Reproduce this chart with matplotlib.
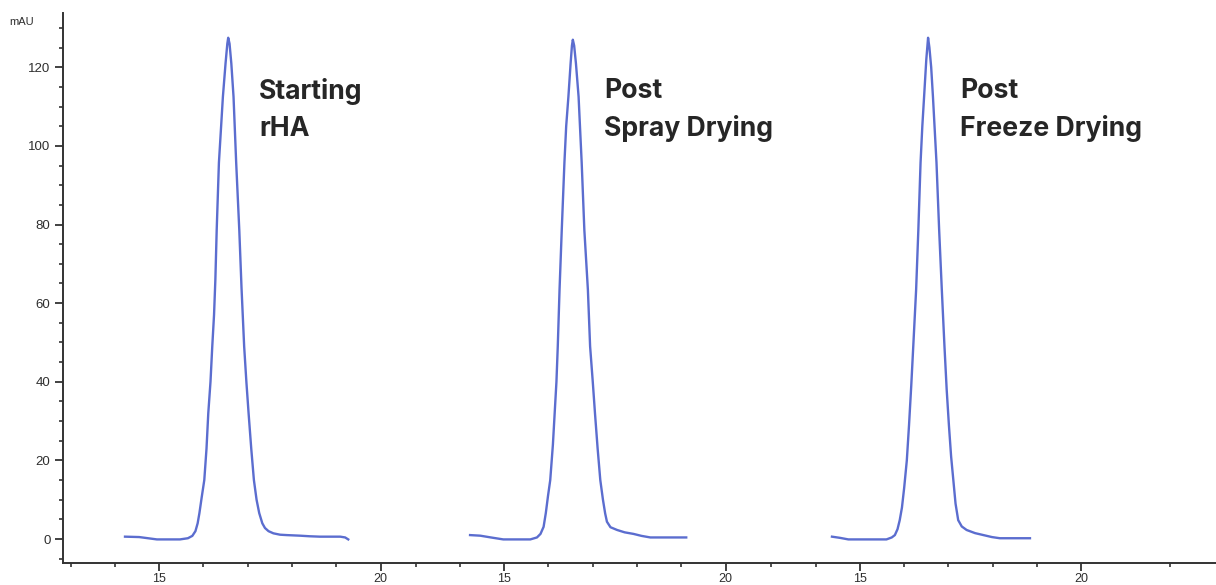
import matplotlib.pyplot as plt

# retention time (min) and absorbance (mAU)
t_starting = [14.23, 14.55, 14.75, 14.95, 15.25, 15.47, 15.65, 15.75, 15.82, 15.87,
              15.91, 15.96, 16.02, 16.07, 16.11, 16.16, 16.20, 16.24, 16.27, 16.30,
              16.35, 16.40, 16.44, 16.50, 16.54, 16.56, 16.59, 16.63, 16.68, 16.74,
              16.81, 16.86, 16.92, 16.97, 17.02, 17.08, 17.14, 17.20, 17.26, 17.33,
              17.39, 17.47, 17.58, 17.73, 17.88, 18.18, 18.40, 18.63, 19.09, 19.20,
              19.27]
mau_starting = [0.6, 0.5, 0.2, -0.1, -0.1, -0.1, 0.2, 0.8, 2.0, 4.0,
                6.6, 10.5, 15.0, 23.0, 32.0, 40.0, 49.0, 57.0, 66.0, 78.6,
                95.7, 105.0, 112.5, 121.0, 126.0, 127.5, 126.0, 121.0, 112.5, 95.7,
                78.6, 64.0, 49.0, 40.0, 32.0, 23.0, 15.0, 10.0, 6.6, 4.0,
                2.8, 2.0, 1.45, 1.1, 1.0, 0.85, 0.7, 0.6, 0.6, 0.4,
                -0.1]

t_spray = [14.23, 14.46, 14.70, 14.98, 15.30, 15.59, 15.74, 15.82, 15.89, 15.94,
           15.99, 16.04, 16.10, 16.14, 16.18, 16.21, 16.25, 16.30, 16.36, 16.40,
           16.45, 16.50, 16.53, 16.55, 16.58, 16.62, 16.68, 16.75, 16.81, 16.89,
           16.94, 17.00, 17.05, 17.11, 17.17, 17.23, 17.28, 17.32, 17.40, 17.55,
           17.72, 17.92, 18.10, 18.30, 18.70, 19.11]
mau_spray = [1.0, 0.85, 0.4, -0.1, -0.1, -0.1, 0.4, 1.3, 3.1, 6.6,
             11.0, 15.0, 24.0, 32.0, 40.0, 49.0, 63.4, 78.6, 95.7, 105.0,
             112.5, 121.0, 125.5, 127.0, 125.5, 121.0, 112.5, 95.7, 78.6, 63.4,
             49.0, 40.0, 32.0, 23.0, 15.0, 10.0, 6.5, 4.4, 3.0, 2.3,
             1.7, 1.3, 0.8, 0.4, 0.4, 0.4]

t_freeze = [14.37, 14.55, 14.74, 15.20, 15.60, 15.72, 15.79, 15.85, 15.90, 15.95,
            16.00, 16.06, 16.11, 16.16, 16.21, 16.27, 16.32, 16.37, 16.41, 16.45,
            16.50, 16.54, 16.57, 16.61, 16.65, 16.73, 16.79, 16.85, 16.91, 16.96,
            17.01, 17.06, 17.11, 17.16, 17.22, 17.30, 17.41, 17.60, 17.79, 17.98,
            18.16, 18.84]
mau_freeze = [0.6, 0.3, -0.1, -0.1, -0.1, 0.4, 1.0, 2.5, 4.8, 8.0,
              13.0, 20.0, 29.0, 39.0, 50.0, 63.4, 78.6, 95.7, 105.0, 112.5,
              122.0, 127.5, 125.0, 120.0, 112.5, 95.7, 78.6, 63.4, 49.0, 38.0,
              29.0, 21.0, 15.0, 9.0, 4.8, 3.2, 2.3, 1.5, 1.0, 0.5,
              0.2, 0.2]

panel_labels = ["Starting\nrHA", "Post\nSpray Drying", "Post\nFreeze Drying"]
major_minutes = [15, 20]
minor_minutes = [13, 14, 15, 16, 17, 18, 19, 20]

# the three runs are pasted side by side on one time axis
panel_shift = [0.0, 7.79, 15.82]
traces = [(t_starting, mau_starting), (t_spray, mau_spray), (t_freeze, mau_freeze)]

line_color = "#5b6dcf"
axis_color = "#333333"

fig = plt.figure(figsize=(12.16, 5.85), dpi=100)
ax = fig.add_axes([0.0518, 0.0376, 0.9482, 0.9402])

major_pos, major_lab, minor_pos = [], [], []
for (t, mau), shift, label in zip(traces, panel_shift, panel_labels):
    ax.plot([x + shift for x in t], mau, color=line_color, lw=1.7,
            solid_joinstyle="round")
    # va="baseline" on a two-line text sits on the last line's baseline
    ax.text(17.26 + shift, 102.4, label, fontsize=19.2, fontweight="bold",
            family=["Inter", "DejaVu Sans"], color="#262626",
            va="baseline", ha="left", linespacing=1.55)
    major_pos += [m + shift for m in major_minutes]
    major_lab += [str(m) for m in major_minutes]
    minor_pos += [m + shift for m in minor_minutes]
minor_pos += [22 + panel_shift[2]]

ax.set_xlim(12.83, 38.86)
ax.set_ylim(-6.1, 133.8)

ax.set_xticks(major_pos, major_lab)
ax.set_xticks(minor_pos, minor=True)
ax.set_yticks(range(0, 121, 20))
ax.set_yticks(range(-5, 131, 5), minor=True)

for side in ("top", "right"):
    ax.spines[side].set_visible(False)
for side in ("left", "bottom"):
    ax.spines[side].set_color(axis_color)
    ax.spines[side].set_linewidth(1.4)

ax.tick_params(which="major", length=6, width=1.3, color=axis_color,
               labelsize=9.5, labelcolor="#2e2e2e", pad=3)
ax.tick_params(axis="x", which="major", pad=1.5, labelsize=9)
ax.tick_params(which="minor", length=3, width=1.2, color=axis_color)
for lab in ax.get_xticklabels() + ax.get_yticklabels():
    lab.set_family("Liberation Sans")

fig.text(0.008, 0.962, "mAU", fontsize=8, family="Liberation Sans",
         color="#2e2e2e", va="center", ha="left")

fig.savefig("out.png", dpi=100)
